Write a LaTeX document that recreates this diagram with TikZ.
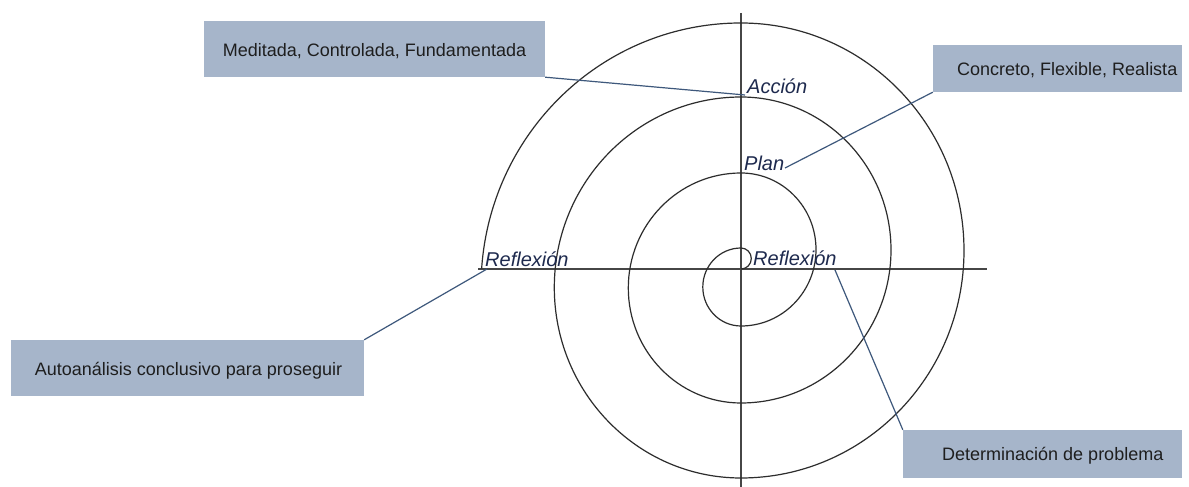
\documentclass[tikz,border=0pt]{standalone}
\usepackage{fontspec}
\setmainfont{Liberation Sans}
\definecolor{boxfill}{RGB}{166,181,202}
\definecolor{boxtext}{RGB}{30,30,30}
\definecolor{lbl}{RGB}{30,42,78}
\definecolor{conn}{RGB}{62,88,124}
\definecolor{axis}{RGB}{70,70,70}
\definecolor{spir}{RGB}{45,45,45}
\begin{document}
\begin{tikzpicture}[x=1pt,y=1pt,
  boxnode/.style={fill=boxfill, draw=none, inner sep=0pt},
  boxtxt/.style={font=\fontsize{18}{20}\selectfont, text=boxtext, inner sep=0pt},
  lblnode/.style={font=\fontsize{20}{22}\selectfont\itshape, text=lbl, inner sep=0pt, anchor=base west},
  connector/.style={draw=conn, line width=1.2pt},
  axisline/.style={draw=axis, line width=1.3pt},
  spiral/.style={draw=spir, line width=1.2pt}]
\useasboundingbox[fill=white] (0,0) rectangle (1189,487);
% axes
\draw[axisline] (741,474) -- (741,0);
\draw[axisline] (478,218) -- (987,218);
% spiral of semicircles
\draw[spiral] (741,218)
  arc[start angle=-90, end angle=90, x radius=10.3, y radius=10.5]
  arc[start angle=90, end angle=270, x radius=38.2, y radius=39]
  arc[start angle=-90, end angle=90, x radius=75, y radius=76.5]
  arc[start angle=90, end angle=270, x radius=112.7, y radius=115]
  arc[start angle=-90, end angle=90, x radius=150, y radius=153]
  arc[start angle=90, end angle=270, x radius=186.7, y radius=190.5]
  arc[start angle=-90, end angle=90, x radius=223, y radius=227.5]
  arc[start angle=90, end angle=176, x radius=260, y radius=264];
% labels
\node[lblnode] (acc) at (747,393) {Acción};
\node[lblnode] (plan) at (744,316) {Plan};
\node[lblnode] (refr) at (753,221) {Reflexión};
\node[lblnode] (refl) at (485,220) {Reflexión};
% boxes
\node[boxnode, minimum width=341pt, minimum height=56pt] (b1) at (374.5,438) {};
\node[boxtxt] (t1) at (374.5,436) {Meditada, Controlada, Fundamentada};
\node[boxnode, minimum width=249pt, minimum height=47pt] (b2) at (1057.5,418.5) {};
\node[boxtxt, anchor=west] (t2) at (957,417) {Concreto, Flexible, Realista};
\node[boxnode, minimum width=353pt, minimum height=56pt] (b3) at (187.5,119) {};
\node[boxtxt] (t3) at (188.5,116) {Autoanálisis conclusivo para proseguir};
\node[boxnode, minimum width=279pt, minimum height=48pt] (b4) at (1042.5,33) {};
\node[boxtxt, anchor=west] (t4) at (942,31) {Determinación de problema};
% connector ends
\coordinate (accend) at (745,392);
\coordinate (planend) at (785,319);
\coordinate (reflend) at (487,218);
\coordinate (refrend) at (835,217);
% connectors
\draw[connector] (b1.south east) -- (accend);
\draw[connector] (b2.south west) -- (planend);
\draw[connector] (b3.north east) -- (reflend);
\draw[connector] (b4.north west) -- (refrend);
\end{tikzpicture}
\end{document}
